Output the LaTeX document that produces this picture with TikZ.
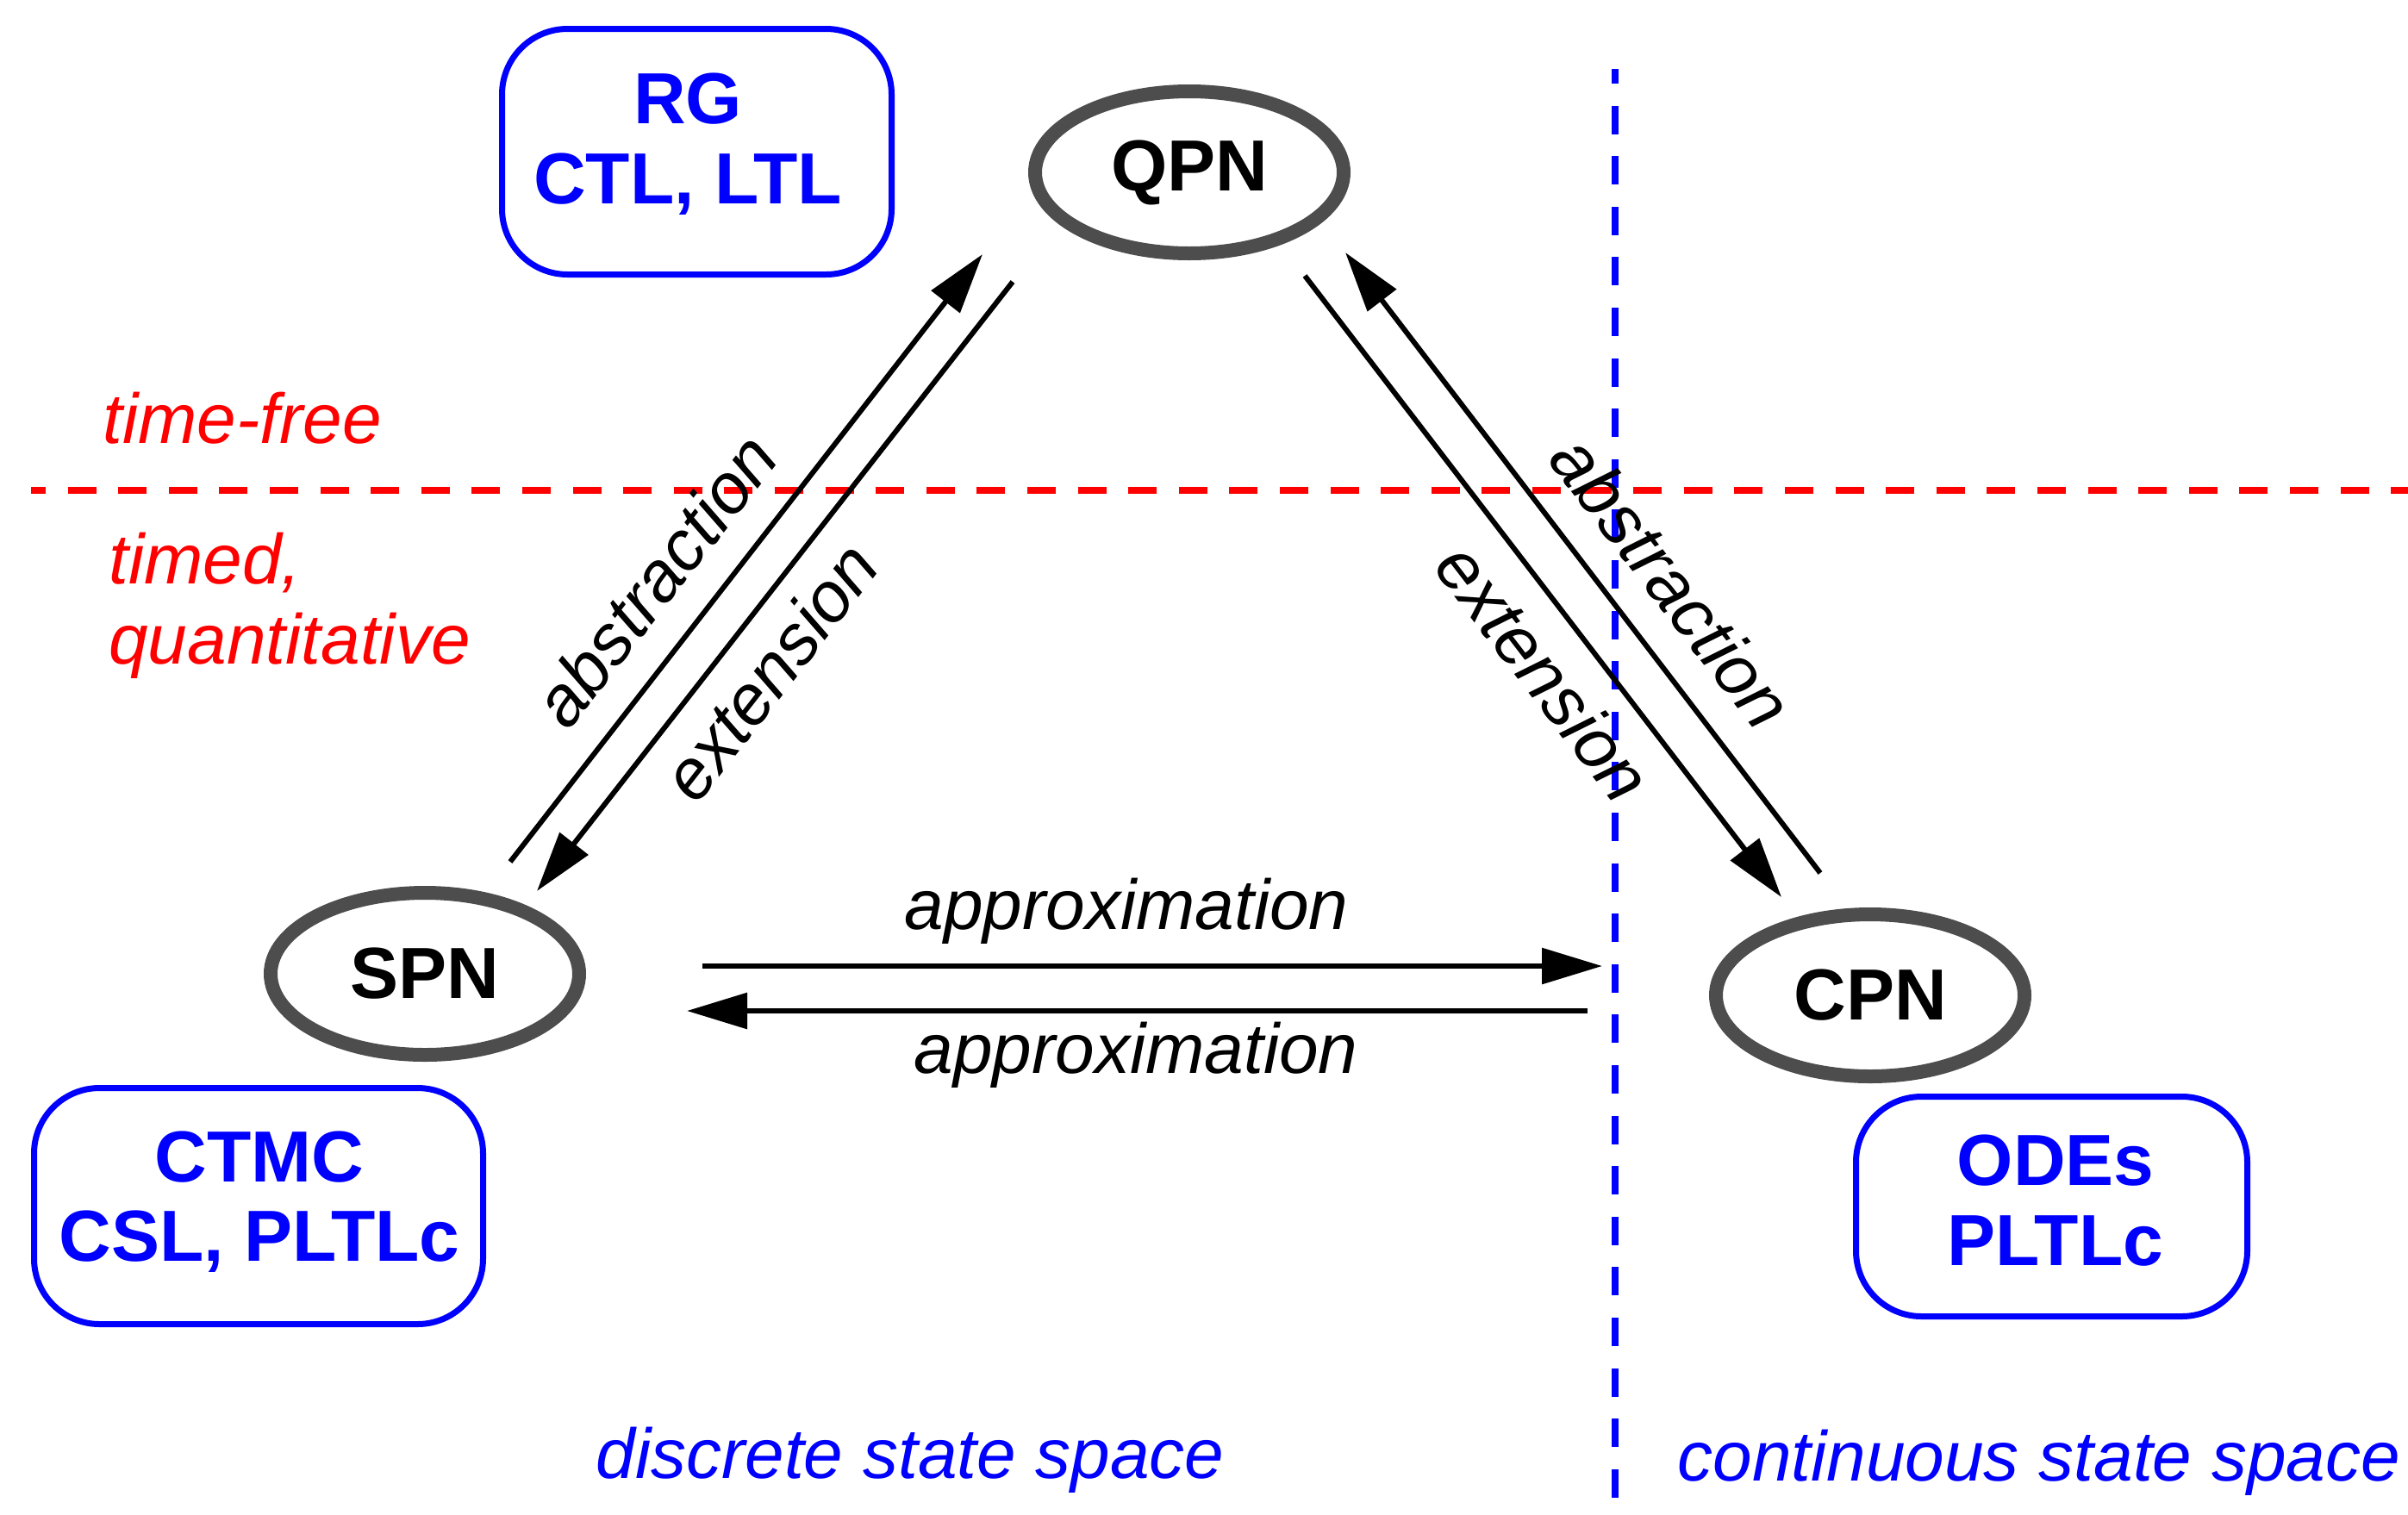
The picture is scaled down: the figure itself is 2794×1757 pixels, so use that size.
\documentclass[tikz,border=0pt]{standalone}
\usepackage{fontspec}
\setmainfont{Liberation Sans}
\usetikzlibrary{arrows.meta,shapes.geometric}
\definecolor{pblue}{RGB}{0,0,255}
\definecolor{pred}{RGB}{255,0,0}
\definecolor{ringgray}{RGB}{77,77,77}
\tikzset{
  petri/.style={ellipse, draw=ringgray, line width=8pt, minimum width=179pt,
    minimum height=94pt, inner sep=0pt, font=\fontsize{42}{46}\selectfont\bfseries},
  logicbox/.style={draw=pblue, line width=3.5pt, rounded corners=38pt, inner sep=0pt},
  logictext/.style={text=pblue, anchor=base, inner sep=0pt,
    font=\fontsize{42}{46}\selectfont\bfseries},
  regiontext/.style={anchor=base west, inner sep=0pt,
    font=\fontsize{41}{46}\selectfont\itshape},
  arr/.style={line width=3pt, -{Triangle[length=35pt,width=20.5pt]}},
  lbl/.style={inner sep=0pt, font=\fontsize{41}{46}\selectfont\itshape},
  divider/.style={line width=4pt, dash pattern=on 16.5pt off 12.8pt, dash phase=8pt}
}
\begin{document}
\begin{tikzpicture}[x=0.5pt,y=-0.5pt]
\useasboundingbox (0,0) rectangle (2794,1757);
% dividers
\coordinate (redL) at (36,569);
\coordinate (redR) at (2794,569);
\coordinate (blueT) at (1874,80);
\coordinate (blueB) at (1874,1757);
\draw[divider, draw=pred] (redL) -- (redR);
\draw[divider, draw=pblue] (blueT) -- (blueB);
% logic boxes
\node[logicbox, minimum width=226pt, minimum height=142.5pt] (rgbox) at (808.5,176) {};
\node[logicbox, minimum width=260.5pt, minimum height=137pt] (ctmcbox) at (300,1399.5) {};
\node[logicbox, minimum width=227pt, minimum height=127.5pt] (odebox) at (2380.5,1400) {};
\node[logictext] (rg1) at (798,143) {RG};
\node[logictext] (rg2) at (798,236) {CTL, LTL};
\node[logictext] (ct1) at (301,1371) {CTMC};
\node[logictext] (ct2) at (301,1463) {CSL, PLTLc};
\node[logictext] (od1) at (2385,1375) {ODEs};
\node[logictext] (od2) at (2385,1468) {PLTLc};
% Petri net nodes
\node[petri] (qpn) at (1380,200) {QPN};
\node[petri] (spn) at (493,1130) {SPN};
\node[petri] (cpn) at (2170,1155) {CPN};
% connector end points
\coordinate (la0) at (592,1000);
\coordinate (la1) at (1140,295);
\coordinate (le0) at (1175,327);
\coordinate (le1) at (623,1034);
\coordinate (re0) at (1514,320);
\coordinate (re1) at (2067,1041);
\coordinate (ra0) at (2112,1013);
\coordinate (ra1) at (1561,293);
\coordinate (ha0) at (815,1121);
\coordinate (ha1) at (1859,1121);
\coordinate (hb0) at (1842,1173);
\coordinate (hb1) at (797,1173);
\draw[arr] (la0) -- (la1);
\draw[arr] (le0) -- (le1);
\draw[arr] (re0) -- (re1);
\draw[arr] (ra0) -- (ra1);
\draw[arr] (ha0) -- (ha1);
\draw[arr] (hb0) -- (hb1);
% connector labels
\node[lbl, rotate=52.1] (labL) at (760,673) {abstraction};
\node[lbl, rotate=52.1] (lexL) at (893,779) {extension};
\node[lbl, rotate=-52.5] (labR) at (1940,675) {abstraction};
\node[lbl, rotate=-52.5] (lexR) at (1792,780) {extension};
\node[lbl, anchor=base] (apx1) at (1307,1078) {approximation};
\node[lbl, anchor=base] (apx2) at (1318,1245) {approximation};
% region texts
\node[regiontext, text=pred] (tf) at (119,514) {time-free};
\node[regiontext, text=pred] (td1) at (126,677) {timed,};
\node[regiontext, text=pred] (td2) at (126,770) {quantitative};
\node[regiontext, text=pblue] (dss) at (691,1715) {discrete state space};
\node[regiontext, text=pblue] (css) at (1946,1718) {continuous state space};
\end{tikzpicture}
\end{document}
